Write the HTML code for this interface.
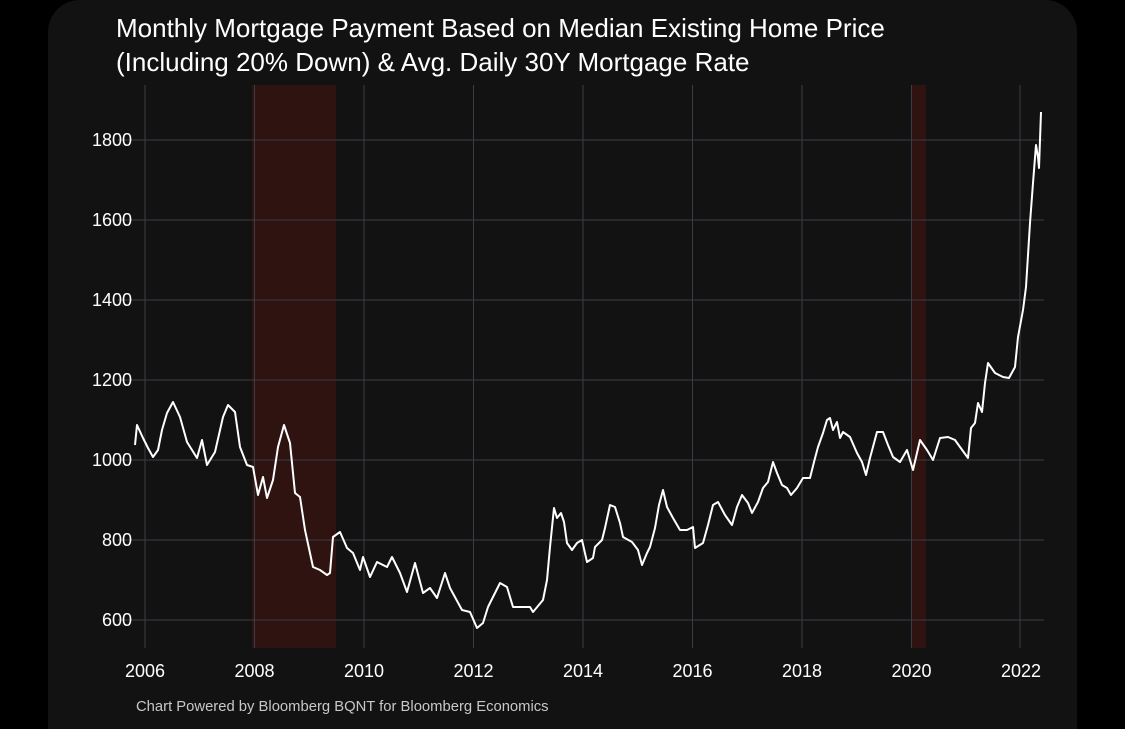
<!DOCTYPE html>
<html><head><meta charset="utf-8"><style>
html,body{margin:0;padding:0;background:#000;width:1125px;height:729px;overflow:hidden}
svg{display:block}
</style></head><body>
<svg width="1125" height="729" xmlns="http://www.w3.org/2000/svg" font-family="Liberation Sans, Arial, sans-serif">
<rect x="0" y="0" width="1125" height="729" fill="#000"/>
<rect x="48" y="0" width="1029" height="760" rx="32" fill="#121212"/>
<text x="116" y="37" fill="#ffffff" font-size="26">Monthly Mortgage Payment Based on Median Existing Home Price</text>
<text x="116" y="71" fill="#ffffff" font-size="26">(Including 20% Down) &amp; Avg. Daily 30Y Mortgage Rate</text>
<rect x="252" y="85" width="84" height="563" fill="#2e1311"/>
<rect x="912" y="85" width="14" height="563" fill="#2e1311"/>
<g stroke="#3a3d45" stroke-width="1">
<line x1="118" y1="140" x2="1044" y2="140"/><line x1="118" y1="220" x2="1044" y2="220"/>
<line x1="118" y1="300" x2="1044" y2="300"/><line x1="118" y1="380" x2="1044" y2="380"/>
<line x1="118" y1="460" x2="1044" y2="460"/><line x1="118" y1="540" x2="1044" y2="540"/>
<line x1="118" y1="620" x2="1044" y2="620"/>
<line x1="145" y1="85" x2="145" y2="648"/><line x1="254.5" y1="85" x2="254.5" y2="648"/>
<line x1="364" y1="85" x2="364" y2="648"/><line x1="473.5" y1="85" x2="473.5" y2="648"/>
<line x1="583" y1="85" x2="583" y2="648"/><line x1="692.5" y1="85" x2="692.5" y2="648"/>
<line x1="802" y1="85" x2="802" y2="648"/><line x1="911.5" y1="85" x2="911.5" y2="648"/>
<line x1="1020" y1="85" x2="1020" y2="648"/>
</g>
<g fill="#ffffff" font-size="18" text-anchor="end">
<text x="132" y="146">1800</text><text x="132" y="226">1600</text><text x="132" y="306">1400</text>
<text x="132" y="386">1200</text><text x="132" y="466">1000</text><text x="132" y="546">800</text><text x="132" y="626">600</text>
</g>
<g fill="#ffffff" font-size="18" text-anchor="middle">
<text x="145" y="677">2006</text><text x="254.5" y="677">2008</text><text x="364" y="677">2010</text>
<text x="473.5" y="677">2012</text><text x="583" y="677">2014</text><text x="692.5" y="677">2016</text>
<text x="802" y="677">2018</text><text x="911.5" y="677">2020</text><text x="1021" y="677">2022</text>
</g>
<text x="136" y="711" fill="#c8c8c8" font-size="14.8">Chart Powered by Bloomberg BQNT for Bloomberg Economics</text>
<polyline fill="none" stroke="#ffffff" stroke-width="2" stroke-linejoin="round" points="
135,445 137,425 143,438 148,448 153,457 158,450 162,430 167,413 173,402 180,417 187,442 192,450 197,458 202,440 207,465 215,452 223,417 228,405 235,412 240,447 247,465 253,467 258,495 263,477 267,498 273,480 278,447 284,425 290,443 295,493 300,497 305,530 313,567 320,570 327,575 330,573 333,537 340,532 347,548 353,553 360,570 363,557 370,577 377,562 387,567 392,557 400,573 407,592 415,563 423,593 430,588 437,598 445,573 450,588 462,610 470,612 477,628 483,623 488,607 500,583 507,587 513,607 530,607 533,612 543,600 547,580 550,547 554,508 557,518 561,513 564,522 567,543 572,550 577,543 582,540 587,562 593,558 595,547 602,540 605,528 610,505 615,507 620,523 623,537 632,542 638,550 642,565 647,553 650,547 655,528 659,505 663,490 667,507 673,518 680,530 687,530 693,527 695,548 703,543 708,525 713,505 718,502 725,515 732,525 737,507 742,495 748,503 752,513 758,502 763,488 768,482 773,462 777,473 782,485 787,488 791,495 797,488 803,478 810,478 814,462 818,447 823,433 827,420 830,418 833,430 837,422 840,438 843,432 850,437 857,453 862,462 866,475 870,458 877,432 883,432 888,445 893,457 900,462 907,450 913,470 920,440 927,450 933,460 940,438 948,437 955,440 960,447 968,458 971,428 975,423 978,403 982,412 985,383 988,363 995,373 1003,377 1009,378 1015,367 1018,337 1023,310 1026,287 1030,223 1033,183 1036,145 1038,157 1039,168 1040,140 1041,112"/>
</svg>
</body></html>
